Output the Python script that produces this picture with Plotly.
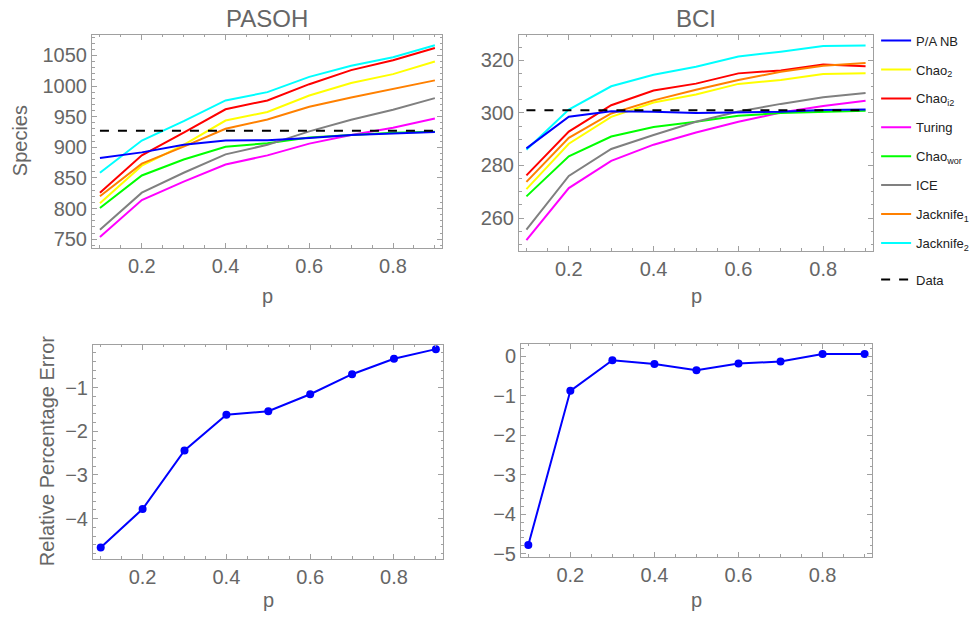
import plotly.graph_objects as go

W, H = 980, 623

p = [0.1, 0.2, 0.3, 0.4, 0.5, 0.6, 0.7, 0.8, 0.9]

names = ["P/A NB", "Chao<sub>2</sub>", "Chao<sub>i2</sub>", "Turing", "Chao<sub>wor</sub>",
         "ICE", "Jacknife<sub>1</sub>", "Jacknife<sub>2</sub>"]
colors = ["#0000ff", "#ffff00", "#ff0000", "#ff00ff", "#00ff00", "#808080", "#ff8000", "#00ffff"]

# PASOH species estimates
pasoh_panb = [882.6, 891.7, 904.0, 911.0, 911.5, 915.0, 920.0, 923.0, 925.0]
pasoh_chao2 = [808.5, 870.0, 904.0, 943.7, 957.7, 984.5, 1005.0, 1019.4, 1040.0]
pasoh_chaoi2 = [826.0, 887.0, 924.0, 962.0, 976.5, 1003.0, 1026.0, 1042.0, 1062.0]
pasoh_turing = [753.7, 813.9, 844.0, 871.8, 886.8, 906.0, 920.0, 932.0, 947.0]
pasoh_chaowor = [801.0, 854.0, 880.0, 900.8, 906.7, 915.8, 920.0, 923.9, 925.5]
pasoh_ice = [765.6, 826.0, 858.4, 888.5, 904.0, 926.0, 944.8, 961.4, 980.2]
pasoh_jack1 = [820.0, 873.4, 901.0, 930.3, 945.3, 966.3, 981.3, 994.7, 1009.2]
pasoh_jack2 = [858.4, 911.0, 942.7, 976.5, 990.0, 1015.0, 1033.0, 1047.0, 1066.6]
pasoh_data = 927

# BCI species estimates
bci_panb = [286.5, 298.5, 300.6, 300.4, 299.9, 300.25, 300.4, 301.1, 301.25]
bci_chao2 = [271.0, 288.25, 298.5, 303.9, 307.0, 311.0, 312.5, 314.75, 315.0]
bci_chaoi2 = [276.25, 292.9, 302.9, 308.5, 311.1, 315.0, 316.1, 318.4, 317.75]
bci_turing = [251.6, 271.4, 281.75, 287.9, 292.5, 296.6, 300.1, 302.6, 304.6]
bci_chaowor = [268.25, 283.5, 291.0, 294.6, 296.6, 298.9, 299.9, 300.4, 300.75]
bci_ice = [255.6, 276.0, 286.25, 291.6, 296.6, 300.5, 303.4, 305.9, 307.5]
bci_jack1 = [273.75, 290.5, 299.75, 304.75, 308.75, 312.5, 315.6, 317.9, 318.9]
bci_jack2 = [286.0, 301.25, 310.1, 314.5, 317.5, 321.4, 323.25, 325.4, 325.6]
bci_data = 301

# Relative percentage error of P/A NB
pasoh_err = [-4.66, -3.78, -2.44, -1.62, -1.54, -1.15, -0.69, -0.335, -0.116]
bci_err = [-4.78, -0.88, -0.108, -0.2, -0.358, -0.19, -0.14, 0.05, 0.05]

pasoh_series = [pasoh_panb, pasoh_chao2, pasoh_chaoi2, pasoh_turing, pasoh_chaowor,
                pasoh_ice, pasoh_jack1, pasoh_jack2]
bci_series = [bci_panb, bci_chao2, bci_chaoi2, bci_turing, bci_chaowor,
              bci_ice, bci_jack1, bci_jack2]

FRAME = "#a0a0a0"
TXT = "#666666"
FONT = "Liberation Sans, Arial, sans-serif"

fig = go.Figure()

draw_order = [1, 2, 3, 4, 5, 6, 7, 0]
for i in draw_order:
    fig.add_trace(go.Scatter(x=p, y=pasoh_series[i], mode="lines", name=names[i],
                             line=dict(color=colors[i], width=2), legendrank=i + 1,
                             legendgroup=f"g{i}", xaxis="x", yaxis="y"))
    fig.add_trace(go.Scatter(x=p, y=bci_series[i], mode="lines", name=names[i],
                             line=dict(color=colors[i], width=2), showlegend=False,
                             legendgroup=f"g{i}", xaxis="x2", yaxis="y2"))

fig.add_trace(go.Scatter(x=[p[0], p[-1]], y=[pasoh_data, pasoh_data], mode="lines", name="Data",
                         line=dict(color="black", width=2, dash="dash"), legend="legend2",
                         xaxis="x", yaxis="y"))
fig.add_trace(go.Scatter(x=[p[0], p[-1]], y=[bci_data, bci_data], mode="lines", name="Data",
                         line=dict(color="black", width=2, dash="dash"), showlegend=False,
                         xaxis="x2", yaxis="y2"))

fig.add_trace(go.Scatter(x=p, y=pasoh_err, mode="lines+markers", showlegend=False,
                         line=dict(color="#0000ff", width=2), marker=dict(color="#0000ff", size=8),
                         xaxis="x3", yaxis="y3"))
fig.add_trace(go.Scatter(x=p, y=bci_err, mode="lines+markers", showlegend=False,
                         line=dict(color="#0000ff", width=2), marker=dict(color="#0000ff", size=8),
                         xaxis="x4", yaxis="y4"))


def px_dom(a, b, total):
    return [a / total, b / total]


def ydom(top, bottom):
    return [1 - bottom / H, 1 - top / H]


def ax(domain, rng, dtick, minor, anchor, **kw):
    return dict(domain=domain, range=rng, tick0=0, dtick=dtick, ticks="inside", ticklen=5,
                tickwidth=1, tickcolor=FRAME, showline=True, linecolor=FRAME, linewidth=1,
                mirror="ticks", showgrid=False, zeroline=False, anchor=anchor,
                minor=dict(tick0=0, dtick=minor, ticks="inside", ticklen=2.5, tickcolor=FRAME,
                           showgrid=False),
                tickfont=dict(size=20, color=TXT, family=FONT), **kw)


fig.update_layout(
    width=W, height=H, margin=dict(l=0, r=0, t=0, b=0),
    paper_bgcolor="white", plot_bgcolor="white",
    font=dict(family=FONT, color=TXT),
    xaxis=ax(px_dom(92, 442, W), [0.081, 0.917], 0.2, 0.05, "y"),
    yaxis=ax(ydom(35, 251), [736, 1084], 50, 10, "x"),
    xaxis2=ax(px_dom(519, 873, W), [0.0825, 0.9175], 0.2, 0.05, "y2"),
    yaxis2=ax(ydom(35, 254), [247.6, 329.75], 20, 5, "x2"),
    xaxis3=ax(px_dom(93, 443, W), [0.0816, 0.917], 0.2, 0.05, "y3"),
    yaxis3=ax(ydom(349, 566), [-4.92, -0.01], 1, 0.2, "x3"),
    xaxis4=ax(px_dom(521, 872, W), [0.0826, 0.9176], 0.2, 0.05, "y4"),
    yaxis4=ax(ydom(348, 564), [-5.075, 0.316], 1, 0.2, "x4"),
    showlegend=True,
    legend=dict(x=0.894, y=1 - 26 / H, xanchor="left", yanchor="top",
                font=dict(size=13, color="#222222", family=FONT),
                tracegroupgap=9, itemwidth=30, bgcolor="rgba(0,0,0,0)"),
    legend2=dict(x=0.894, y=1 - 268 / H, xanchor="left", yanchor="top",
                 font=dict(size=13, color="#222222", family=FONT),
                 itemwidth=30, bgcolor="rgba(0,0,0,0)"),
)

anns = [
    ("PASOH", 267, 19, 24, 0),
    ("BCI", 696, 19, 24, 0),
    ("p", 267, 300, 20, 0),
    ("p", 696, 300, 20, 0),
    ("p", 268, 608, 20, 0),
    ("p", 696, 608, 20, 0),
    ("Species", 20, 143, 20, -90),
    ("Relative Percentage Error", 47, 457, 20, -90),
]
for text, xp, yp, size, ang in anns:
    fig.add_annotation(text=text, x=xp / W, y=1 - yp / H, xref="paper", yref="paper",
                       xanchor="center", yanchor="middle", showarrow=False, textangle=ang,
                       font=dict(size=size, color=TXT, family=FONT))

fig.write_html("out.html", config={"displayModeBar": False},
               post_script="document.body.style.margin='0';document.body.style.overflow='hidden';")
